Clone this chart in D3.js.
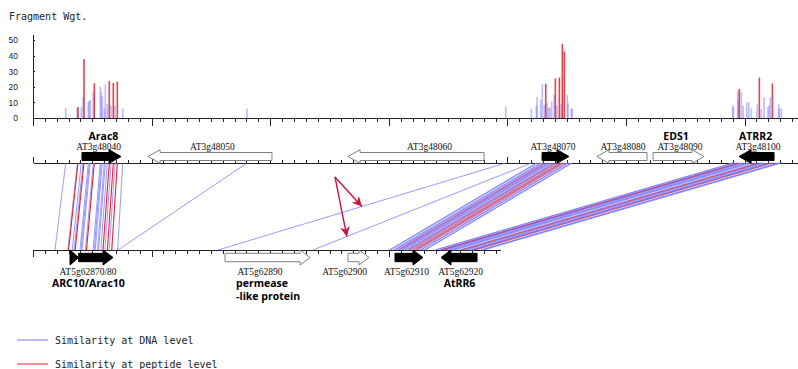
<!DOCTYPE html>
<html>
<head>
<meta charset="utf-8">
<script src="https://cdn.jsdelivr.net/npm/d3@7"></script>
<style>
  body { margin: 0; background: #fff; }
</style>
</head>
<body>
<div id="chart"></div>
<script>
// matched fragments: [chr3 kb, chr5 kb, fragment weight, level] ; level d = DNA, p = peptide
var arac8Frags = [
  [2.76, 1.85, 6.4, "d"], [3.74, 2.94, 6.5, "d"], [3.79, 3.00, 7, "p"], [4.07, 3.31, 7, "d"],
  [4.22, 3.46, 13.7, "d"], [4.30, 3.56, 37.8, "p"], [4.66, 3.96, 10.3, "d"], [4.75, 4.05, 11, "d"],
  [4.83, 4.14, 11.6, "d"], [5.08, 4.42, 17, "d"], [5.17, 4.51, 22.3, "p"], [5.67, 5.07, 20, "d"],
  [5.76, 5.16, 17, "d"], [5.84, 5.25, 13.7, "d"], [6.01, 5.44, 6, "d"], [6.10, 5.53, 21.7, "d"],
  [6.26, 5.72, 9, "d"], [6.43, 5.90, 23.8, "p"], [6.58, 6.06, 8, "d"], [6.77, 6.27, 22.5, "p"],
  [6.91, 6.43, 8, "d"], [7.11, 6.64, 23.4, "p"], [7.56, 7.14, 6, "d"]
];
var singleFrags = [
  [18.04, 7.17, 6, "d"], [39.86, 15.60, 7.3, "d"], [42.02, 23.61, 5.8, "d"]
];
var rr6Frags = [
  [42.44, 30.04, 8, "d"], [42.50, 30.10, 13.5, "d"], [42.81, 30.41, 12, "d"], [42.94, 30.54, 21.7, "d"],
  [43.11, 30.71, 8.4, "d"], [43.23, 30.83, 22, "p"], [43.36, 30.96, 9.5, "d"], [43.48, 31.08, 6.6, "d"],
  [43.59, 31.19, 6.6, "d"], [43.74, 31.34, 10.5, "d"], [43.95, 31.55, 14.8, "d"], [44.04, 31.64, 25.5, "p"],
  [44.18, 31.78, 8.4, "d"], [44.38, 31.98, 26, "p"], [44.54, 32.14, 9, "d"], [44.63, 32.23, 47.5, "p"],
  [44.80, 32.40, 42.7, "p"], [45.05, 32.65, 14.8, "d"], [45.11, 32.71, 9.6, "d"], [45.39, 32.99, 6.2, "d"],
  [45.47, 33.07, 5.8, "d"]
];
var rr2Frags = [
  [59.00, 33.90, 8.4, "d"], [59.05, 33.95, 6.9, "d"], [59.42, 34.32, 17, "d"], [59.47, 34.37, 11.6, "d"],
  [59.55, 34.45, 18.7, "p"], [59.72, 34.62, 17, "d"], [59.87, 34.77, 8, "d"], [60.18, 35.08, 10, "d"],
  [60.35, 35.25, 10, "d"], [60.57, 35.47, 6.2, "d"], [61.05, 35.95, 8.8, "d"], [61.24, 36.14, 26, "p"],
  [61.41, 36.31, 5.8, "d"], [61.64, 36.54, 13.3, "d"], [61.97, 36.87, 7.3, "d"], [62.08, 36.98, 8.4, "d"],
  [62.17, 37.07, 13.3, "d"], [62.34, 37.24, 22.3, "p"], [62.87, 37.77, 8.8, "d"], [62.92, 37.82, 6, "d"],
  [63.09, 37.99, 6.2, "d"]
];

// genes: [name, start kb, end kb, strand, known, label at kb]
var chr3Genes = [
  ["AT3g48040", 4.13, 7.42, "+", true, 5.53],
  ["AT3g48050", 9.70, 20.15, "-", false, 15.13],
  ["AT3g48060", 26.56, 38.03, "-", false, 33.43],
  ["AT3g48070", 42.92, 45.19, "+", true, 43.84],
  ["AT3g48080", 47.55, 51.77, "-", false, 49.75],
  ["AT3g48090", 52.28, 56.58, "+", false, 54.55],
  ["AT3g48100", 59.53, 62.48, "-", true, 61.13]
];
var chr5Genes = [
  ["", 3.12, 3.85, "+", true, 3.5],
  ["AT5g62870/80", 3.85, 6.75, "+", true, 4.64],
  ["AT5g62890", 16.19, 23.36, "+", false, 19.14],
  ["AT5g62900", 26.56, 28.33, "+", false, 26.27],
  ["AT5g62910", 30.52, 32.88, "+", true, 31.49],
  ["AT5g62920", 34.40, 37.44, "-", true, 36.05]
];
// gene names: [text lines, kb, anchor]
var chr3Names = [[["Arac8"], 5.94, "middle"], [["EDS1"], 54.22, "middle"], [["ATRR2"], 60.93, "middle"]];
var chr5Names = [[["ARC10/Arac10"], 4.67, "middle"], [["permease", "-like protein"], 17.12, "start"], [["AtRR6"], 35.96, "middle"]];

var chr3Length = 64.5, chr5Length = 39.4;
var yTicks = [0, 10, 20, 30, 40, 50];
var legendItems = [["Similarity at DNA level", "d"], ["Similarity at peptide level", "p"]];
// red call-out: from [kb, fraction between tracks] to singleFrags[i] at fraction t
var calloutFrom = [25.46, 0.16];
var calloutTo = [[1, 0.5], [2, 0.845]];

var width = 798, height = 369;
var top3 = 163, bot5 = 250;
var blue = "#7878ff", red = "#e8202a";
var mono = "'DejaVu Sans Mono', monospace";

var svg = d3.select("#chart").append("svg")
  .attr("width", width).attr("height", height);

var x = d3.scaleLinear().domain([0, chr3Length]).range([33, 798]);
var x5 = d3.scaleLinear().domain([0, chr5Length]).range([x(0), x(chr5Length)]);
var y = d3.scaleLinear().domain([0, 54]).range([118, 34]);

var allFrags = arac8Frags.concat(singleFrags, rr6Frags, rr2Frags);

// --- histogram
svg.append("text").attr("x", 9).attr("y", 20).text("Fragment Wgt.")
  .style("font-family", mono).style("font-size", "10px").style("fill", "#222");

var bars = allFrags.filter(function(d) { return d[3] == "d"; })
  .concat(allFrags.filter(function(d) { return d[3] == "p"; }));
svg.selectAll(".bar").data(bars).enter().append("rect")
  .attr("class", "bar")
  .attr("x", function(d) { return x(d[0]) - 0.8; })
  .attr("width", 1.6)
  .attr("y", function(d) { return y(d[2]); })
  .attr("height", function(d) { return y(0) - y(d[2]); })
  .style("fill", function(d) { return d[3] == "p" ? red : blue; })
  .style("fill-opacity", function(d) { return d[3] == "p" ? 0.85 : 0.5; });

function styleAxis(g) {
  g.selectAll("path, line").style("stroke", "#222").style("shape-rendering", "crispEdges");
  g.selectAll("text").remove();
}

var yAxis = svg.append("g").attr("transform", "translate(" + x(0) + ",0)")
  .call(d3.axisLeft(y).tickValues(yTicks).tickSize(-2).tickSizeOuter(0).tickPadding(15));
yAxis.selectAll("path, line").style("stroke", "#222").style("shape-rendering", "crispEdges");
yAxis.selectAll("text").style("font-family", "'Liberation Sans', sans-serif").style("font-size", "8.5px").style("fill", "#222");

function ruler(sc, yPos, dir, len) {
  var minor = d3.range(0, Math.floor(sc.domain()[1]) + 1);
  var major = minor.filter(function(d) { return d % 10 == 0; });
  var mk = dir > 0 ? d3.axisBottom : d3.axisTop;
  svg.append("g").attr("transform", "translate(0," + yPos + ")")
    .call(mk(sc).tickValues(minor).tickSize(len).tickSizeOuter(0)).call(styleAxis);
  svg.append("g").attr("transform", "translate(0," + yPos + ")")
    .call(mk(sc).tickValues(major).tickSize(len * 2).tickSizeOuter(0)).call(styleAxis)
    .select(".domain").remove();
}
ruler(x, y(0), 1, 4);
ruler(x, top3, -1, 3);
ruler(x5, bot5, 1, 3.5);

// --- similarity lines
function frame(d) { return [[x(d[0]), top3], [x5(d[1]), bot5]]; }
[rr6Frags, rr2Frags].forEach(function(block) {
  var e3 = d3.extent(block, function(d) { return d[0]; });
  var e5 = d3.extent(block, function(d) { return d[1]; });
  svg.append("path")
    .attr("d", d3.line()([[x(e3[0]), top3], [x(e3[1]), top3], [x5(e5[1]), bot5], [x5(e5[0]), bot5]]) + "Z")
    .style("fill", "#a8a8ff").style("fill-opacity", 0.4);
});
var link = d3.line();
svg.selectAll(".dna").data(allFrags.filter(function(d) { return d[3] == "d"; })).enter()
  .append("path").attr("class", "dna")
  .attr("d", function(d) { return link(frame(d)); })
  .style("stroke", blue).style("stroke-opacity", 0.75).style("stroke-width", 1).style("fill", "none");
svg.selectAll(".pep").data(allFrags.filter(function(d) { return d[3] == "p"; })).enter()
  .append("path").attr("class", "pep")
  .attr("d", function(d) { return link(frame(d)); })
  .style("stroke", red).style("stroke-width", function(d) { return d[0] > 20 ? 0.8 : 1.1; })
  .style("stroke-opacity", function(d) { return d[0] > 20 ? 0.85 : 1; })
  .style("fill", "none");

// --- genes
function arrow(sc, g, cy, bh, hh, hl) {
  var a = sc(g[1]), b = sc(g[2]), pts;
  if (g[3] == "+") {
    var hb = Math.max(a, b - hl);
    pts = [[a, cy - bh], [hb, cy - bh], [hb, cy - hh], [b, cy], [hb, cy + hh], [hb, cy + bh], [a, cy + bh]];
  } else {
    var hb2 = Math.min(b, a + hl);
    pts = [[b, cy - bh], [hb2, cy - bh], [hb2, cy - hh], [a, cy], [hb2, cy + hh], [hb2, cy + bh], [b, cy + bh]];
  }
  return d3.line()(pts) + "Z";
}
function drawGenes(genes, sc, cy, bh, hh, hl, labelY) {
  svg.selectAll(null).data(genes).enter().append("path")
    .attr("d", function(g) { return arrow(sc, g, cy, bh, hh, hl); })
    .style("fill", function(g) { return g[4] ? "#000" : "#fff"; })
    .style("stroke", function(g) { return g[4] ? "#000" : "#808080"; })
    .style("stroke-width", 1);
  svg.selectAll(null).data(genes).enter().append("text")
    .attr("x", function(g) { return sc(g[5]); })
    .attr("y", labelY)
    .attr("text-anchor", "middle")
    .text(function(g) { return g[0]; })
    .style("font-family", "'Liberation Serif', serif").style("font-size", "9.5px").style("fill", "#111");
}
drawGenes(chr3Genes, x, 156.5, 4, 6.8, 12, 150);
drawGenes(chr5Genes, x5, 257.5, 4.2, 7.5, 10, 275);

function drawNames(names, sc, y0) {
  names.forEach(function(n) {
    var t = svg.append("text").attr("x", sc(n[1])).attr("y", y0).attr("text-anchor", n[2])
      .style("font-family", "'Open Sans', sans-serif").style("font-weight", 700)
      .style("font-size", "10.5px").style("fill", "#000");
    n[0].forEach(function(line, i) {
      t.append("tspan").attr("x", sc(n[1])).attr("dy", i ? 12.5 : 0).text(line);
    });
  });
}
drawNames(chr3Names, x, 139.5);
drawNames(chr5Names, x5, 287);

// --- red call-out arrows
var callColor = "#c8143c";
svg.append("defs").append("marker").attr("id", "head")
  .attr("viewBox", "0 0 10 10").attr("refX", 10).attr("refY", 5)
  .attr("markerWidth", 7).attr("markerHeight", 7).attr("orient", "auto")
  .append("path").attr("d", "M0,0L10,5L0,10L3,5Z").style("fill", callColor);
var fromPt = [x(calloutFrom[0]), top3 + calloutFrom[1] * (bot5 - top3)];
calloutTo.forEach(function(c) {
  var f = frame(singleFrags[c[0]]);
  var tip = [f[0][0] + c[1] * (f[1][0] - f[0][0]), f[0][1] + c[1] * (f[1][1] - f[0][1])];
  svg.append("path").attr("d", d3.line()([fromPt, tip]))
    .attr("marker-end", "url(#head)")
    .style("stroke", callColor).style("stroke-width", 1.4).style("fill", "none");
});

// --- legend
var leg = svg.selectAll(".legend").data(legendItems).enter().append("g")
  .attr("class", "legend")
  .attr("transform", function(d, i) { return "translate(17," + (340 + i * 24) + ")"; });
leg.append("line").attr("x1", 0).attr("x2", 31).attr("y1", 0).attr("y2", 0)
  .style("stroke", function(d) { return d[1] == "p" ? red : blue; }).style("stroke-width", 1);
leg.append("text").attr("x", 38).attr("y", 4).text(function(d) { return d[0]; })
  .style("font-family", mono).style("font-size", "10px").style("fill", "#222");
</script>
</body>
</html>
